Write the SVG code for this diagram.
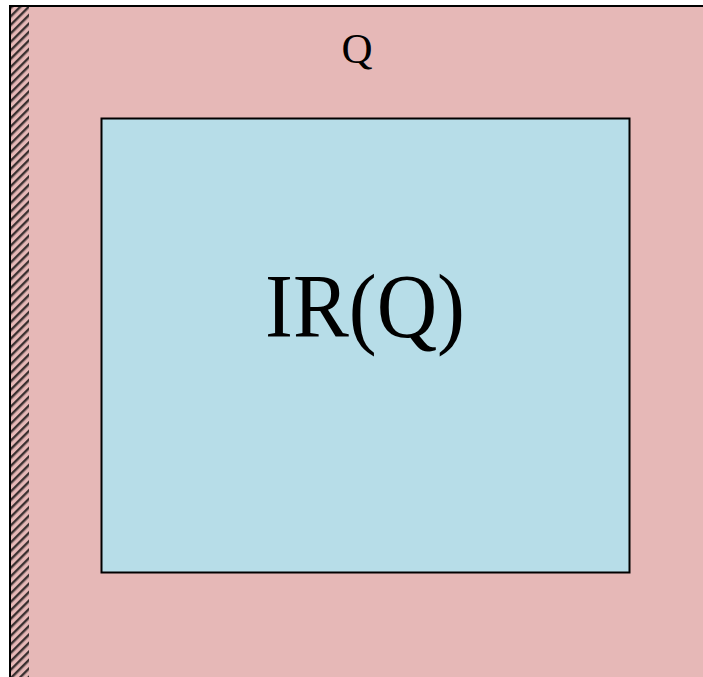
<svg xmlns="http://www.w3.org/2000/svg" width="703" height="677" viewBox="0 0 703 677">
<style>
.lbl{font-family:"Liberation Serif","DejaVu Serif",serif;fill:#000;text-anchor:middle}
</style>
<defs>
<pattern id="hatch" patternUnits="userSpaceOnUse" width="6" height="6" patternTransform="rotate(-45)">
<rect width="6" height="6" fill="#E6B8B7"/>
<rect x="0" y="0" width="6" height="2.4" fill="#3a3030"/>
</pattern>
</defs>
<rect width="703" height="677" fill="#ffffff"/>
<g id="outer">
<rect x="10" y="6" width="700" height="680" fill="#E6B8B7" stroke="#000" stroke-width="2"/>
<rect x="11" y="7" width="18" height="675" fill="url(#hatch)"/>
<text class="lbl" x="357" y="63" font-size="43">Q</text>
</g>
<g id="inner">
<rect x="101.5" y="118.5" width="528" height="454" fill="#B7DDE8" stroke="#000" stroke-width="2"/>
<text class="lbl" x="365" y="337" font-size="90" textLength="200" lengthAdjust="spacingAndGlyphs">IR(Q)</text>
</g>
<g id="connectors"></g>
</svg>
